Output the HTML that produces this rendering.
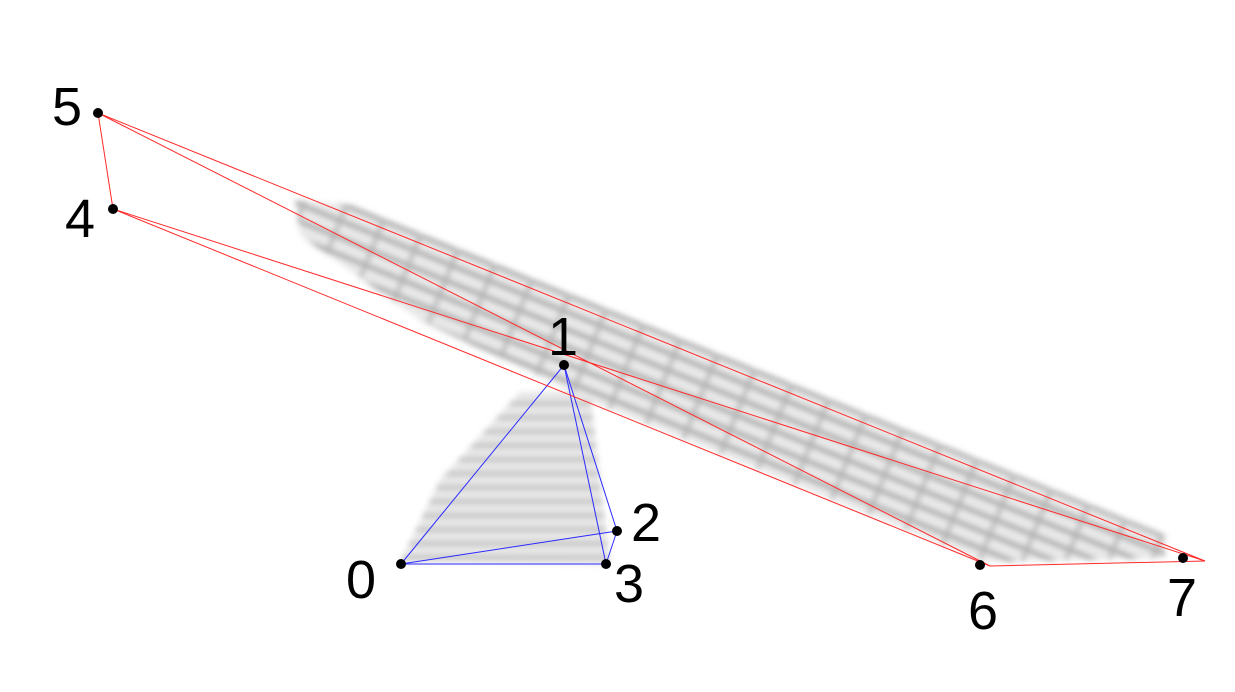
<!DOCTYPE html>
<html><head><meta charset="utf-8"><style>
html,body{margin:0;padding:0;background:#fff;}
svg{display:block;}
text{font-family:"Liberation Sans",sans-serif;font-size:54px;fill:#000;}
</style></head><body>
<svg id="chart" width="1235" height="692" viewBox="0 0 1235 692">
<defs>
<filter id="blur" x="-10%" y="-10%" width="120%" height="120%"><feGaussianBlur stdDeviation="3"/></filter>
<pattern id="stripes" width="40" height="16" patternUnits="userSpaceOnUse" patternTransform="rotate(22)">
<rect width="40" height="16" fill="#e8e8e8"/><rect y="11" width="40" height="4" fill="#9a9a9a"/><rect x="36" width="4" height="16" fill="#b5b5b5"/>
</pattern>
<pattern id="hstripes" width="30" height="14" patternUnits="userSpaceOnUse">
<rect width="30" height="14" fill="#e6e6e6"/><rect y="10" width="30" height="3" fill="#b0b0b0"/>
</pattern>
</defs>
<g filter="url(#blur)">
<polygon points="295,200 350,205 1165,535 1165,558 985,562 600,405 420,320 300,235" fill="url(#stripes)"/>
<polygon points="520,392 590,392 610,565 400,562 440,480" fill="url(#hstripes)"/>
</g>
<g id="edges"></g>
<g id="pts"></g>
</svg>
<script>
const labels=["0","1","2","3","4","5","6","7"];
const px=[401,564,617,606,113,98,980,1183];
const py=[564,365,531,564,209,113,565,558];
const redEndX=[401,564,617,606,113,98,990,1205];
const redEndY=[564,365,531,564,209,113,566,561];
const blueEdges=[[0,1],[1,2],[1,3],[0,2],[0,3],[2,3]];
const redEdges=[[5,4],[5,7],[5,6],[4,6],[4,7],[6,7]];
const labelDx=[-55,-16,14,8,-48,-46,-12,-16];
const labelDy=[34,-10,10,38,28,12,64,58];
const NS="http://www.w3.org/2000/svg";
const eg=document.getElementById('edges'),pg=document.getElementById('pts');
function drawEdges(list,ex,ey,col,name){
 list.forEach(e=>{
  const l=document.createElementNS(NS,'line');
  l.setAttribute('x1',ex[e[0]]);l.setAttribute('y1',ey[e[0]]);
  l.setAttribute('x2',ex[e[1]]);l.setAttribute('y2',ey[e[1]]);
  l.setAttribute('stroke',col);l.setAttribute('stroke-width','1');
  
  
  eg.appendChild(l);
 });
}
drawEdges(blueEdges,px,py,'#2a2aff','blue-edge');
drawEdges(redEdges,redEndX,redEndY,'#ff2a2a','red-edge');
labels.forEach((t,i)=>{
 const c=document.createElementNS(NS,'circle');
 c.setAttribute('cx',px[i]);c.setAttribute('cy',py[i]);c.setAttribute('r','5');c.setAttribute('fill','#000');
 
 
 pg.appendChild(c);
 const tx=document.createElementNS(NS,'text');
 tx.setAttribute('x',px[i]+labelDx[i]);tx.setAttribute('y',py[i]+labelDy[i]);
 tx.textContent=t;
 
 
 pg.appendChild(tx);
});
</script>
</body></html>
